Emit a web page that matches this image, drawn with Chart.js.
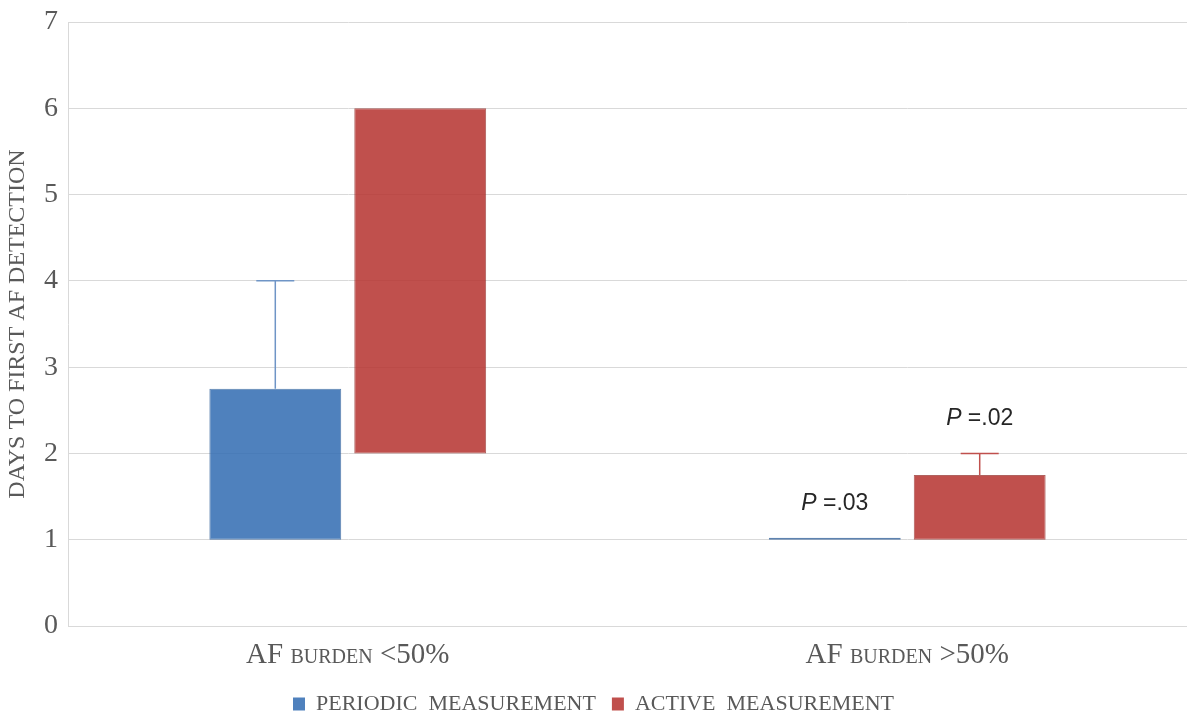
<!DOCTYPE html>
<html>
<head>
<meta charset="utf-8">
<script src="https://cdn.jsdelivr.net/npm/chart.js@4/dist/chart.umd.min.js"></script>
<style>
  html, body { margin: 0; padding: 0; background: #ffffff; overflow: hidden; }
  #wrap { position: absolute; left: 0; top: 0; width: 1187px; height: 725px; }
</style>
</head>
<body>
<div id="wrap"><canvas id="c"></canvas></div>
<script>
// ---- data ----
const categories = ['AF burden <50%', 'AF burden >50%'];
const seriesNames = ['PERIODIC  MEASUREMENT', 'ACTIVE  MEASUREMENT'];
const periodicLow = [1, 1];
const periodicHigh = [2.75, 1];
const periodicErrTop = [4, null];
const activeLow = [2, 1];
const activeHigh = [6, 1.75];
const activeErrTop = [null, 2];
const periodicP = ['', '.03'];
const activeP = ['', '.02'];
const yTicks = [0, 1, 2, 3, 4, 5, 6, 7];
const yTitle = 'DAYS TO FIRST AF DETECTION';

const SERIF = '"Liberation Serif", "Times New Roman", serif';
const SANS = '"Liberation Sans", Arial, sans-serif';
const TEXT = '#595959';
const GRID = '#d9d9d9';

const errorBarPlugin = {
  id: 'errorBars',
  afterDatasetsDraw(chart) {
    const ctx = chart.ctx;
    const y = chart.scales.y;
    chart.data.datasets.forEach((ds, di) => {
      const meta = chart.getDatasetMeta(di);
      meta.data.forEach((bar, i) => {
        const props = bar.getProps(['x', 'y', 'base', 'width'], true);
        const topBar = Math.min(props.y, props.base);
        let top = topBar;
        const err = ds.errTop ? ds.errTop[i] : null;
        if (err !== null && err !== undefined) {
          const ey = y.getPixelForValue(err);
          ctx.save();
          ctx.strokeStyle = ds.errColor;
          ctx.lineWidth = 1.5;
          ctx.beginPath();
          ctx.moveTo(props.x, topBar);
          ctx.lineTo(props.x, ey);
          ctx.moveTo(props.x - 19, ey);
          ctx.lineTo(props.x + 19, ey);
          ctx.stroke();
          ctx.restore();
          top = Math.min(top, ey);
        }
        const p = ds.pText ? ds.pText[i] : '';
        if (p) {
          ctx.save();
          ctx.fillStyle = '#262626';
          ctx.textBaseline = 'alphabetic';
          const fItal = 'italic 23px ' + SANS;
          const fNorm = '23px ' + SANS;
          ctx.font = fItal;
          const w1 = ctx.measureText('P').width;
          ctx.font = fNorm;
          const rest = ' =' + p;
          const w2 = ctx.measureText(rest).width;
          const x0 = props.x - (w1 + w2) / 2;
          const by = top - 28;
          ctx.font = fItal;
          ctx.fillText('P', x0, by);
          ctx.font = fNorm;
          ctx.fillText(rest, x0 + w1, by);
          ctx.restore();
        }
      });
    });
  }
};

new Chart(document.getElementById('c'), {
  type: 'bar',
  data: {
    labels: categories,
    datasets: [
      {
        label: seriesNames[0],
        data: categories.map((c, i) => [periodicLow[i], periodicHigh[i]]),
        backgroundColor: 'rgba(48,107,177,0.85)',
        borderColor: 'rgba(40,90,150,0.75)',
        borderWidth: 1,
        borderSkipped: false,
        minBarLength: 2,
        errTop: periodicErrTop,
        errColor: '#6f95c6',
        pText: periodicP
      },
      {
        label: seriesNames[1],
        data: categories.map((c, i) => [activeLow[i], activeHigh[i]]),
        backgroundColor: 'rgba(181,49,46,0.85)',
        borderColor: 'rgba(150,45,42,0.75)',
        borderWidth: 1,
        borderSkipped: false,
        errTop: activeErrTop,
        errColor: '#C0504D',
        pText: activeP
      }
    ]
  },
  options: {
    responsive: true,
    maintainAspectRatio: false,
    animation: false,
    datasets: { bar: { categoryPercentage: 0.518, barPercentage: 0.91 } },
    layout: { padding: { top: 22, right: 0, bottom: 0, left: 0 } },
    plugins: {
      tooltip: { enabled: false },
      legend: {
        position: 'bottom',
        labels: {
          boxWidth: 12,
          boxHeight: 13,
          padding: 16,
          color: TEXT,
          font: { family: SERIF, size: 22 },
          generateLabels(chart) {
            return chart.data.datasets.map((ds, i) => ({
              text: ds.label,
              fillStyle: i === 0 ? '#4F81BD' : '#C0504D',
              strokeStyle: i === 0 ? '#4F81BD' : '#C0504D',
              lineWidth: 0,
              fontColor: TEXT,
              hidden: false,
              datasetIndex: i
            }));
          }
        }
      }
    },
    scales: {
      x: {
        grid: { display: false },
        border: { display: true, color: GRID },
        ticks: {
          color: TEXT,
          padding: 4,
          font: { family: SERIF, size: 29, weight: 'small-caps' }
        },
        afterFit(scale) { scale.height = 51; }
      },
      y: {
        min: 0,
        max: 7,
        afterBuildTicks(scale) { scale.ticks = yTicks.map(v => ({ value: v })); },
        grid: { color: GRID, drawTicks: false },
        border: { display: true, color: GRID },
        ticks: {
          color: TEXT,
          padding: 10,
          font: { family: SERIF, size: 28, lineHeight: 0.85 }
        },
        title: {
          display: true,
          text: yTitle,
          color: TEXT,
          padding: { top: 3, bottom: 0 },
          font: { family: SERIF, size: 24 }
        },
        afterFit(scale) { scale.width = 68; }
      }
    }
  },
  plugins: [errorBarPlugin]
});
</script>
</body>
</html>
